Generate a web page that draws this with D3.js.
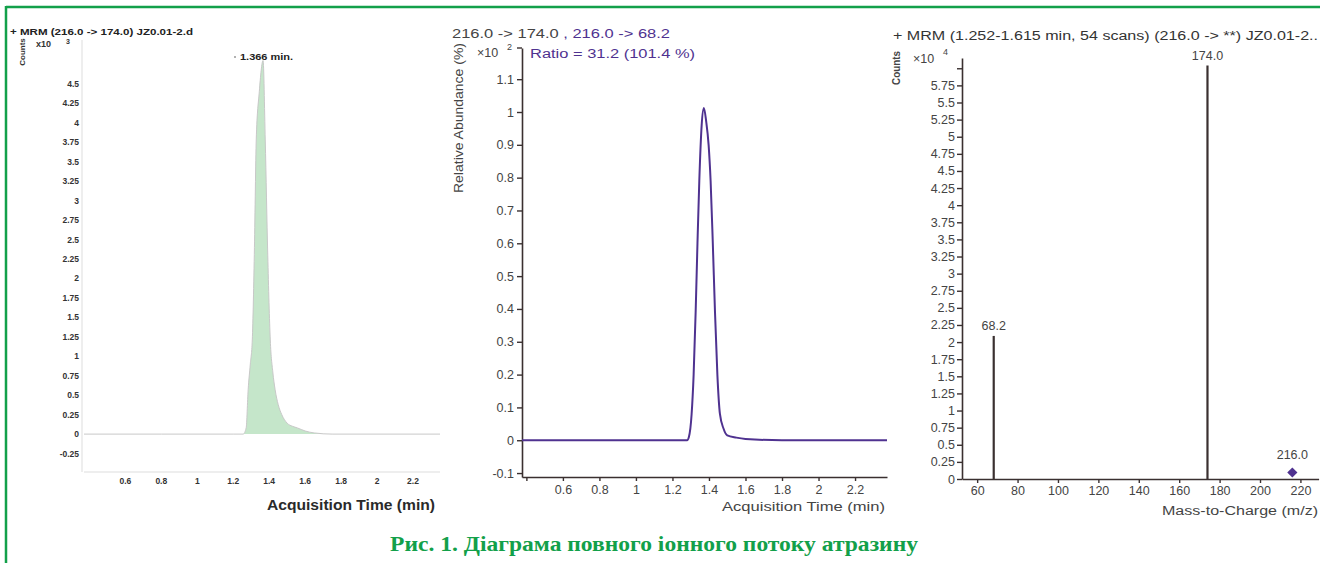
<!DOCTYPE html>
<html>
<head>
<meta charset="utf-8">
<script src="https://cdn.jsdelivr.net/npm/d3@7"></script>
<style>
body{margin:0;background:#fff}
svg{display:block}
text{font-family:"Liberation Sans",Arial,sans-serif}
text.caption{font-family:"Liberation Serif","Times New Roman",serif}
</style>
</head>
<body>
<svg width="1320" height="563"></svg>
<script>
// left panel: MRM 216 -> 174 chromatogram (counts x10^3)
var leftTime = [0.37, 0.8, 1.2, 1.255, 1.272, 1.283, 1.295, 1.306, 1.318, 1.328, 1.345, 1.366, 1.378, 1.392, 1.406, 1.42, 1.433, 1.45, 1.47, 1.5, 1.53, 1.556, 1.6, 1.65, 1.75, 2.35];
var leftCounts = [0, 0, 0, 0, 0.08, 0.57, 0.9, 1.21, 2.4, 3.78, 4.4, 4.8, 3.78, 2.3, 1.21, 0.8, 0.57, 0.38, 0.25, 0.14, 0.1, 0.08, 0.04, 0.015, 0, 0];
var leftYTicks = [-0.25, 0, 0.25, 0.5, 0.75, 1, 1.25, 1.5, 1.75, 2, 2.25, 2.5, 2.75, 3, 3.25, 3.5, 3.75, 4, 4.25, 4.5];
var leftXTicks = [0.6, 0.8, 1, 1.2, 1.4, 1.6, 1.8, 2, 2.2];

// middle panel: relative abundance (x10^2 %)
var midTime = [0.376, 0.7, 1.0, 1.2, 1.28, 1.29, 1.305, 1.316, 1.327, 1.337, 1.347, 1.36, 1.372, 1.385, 1.398, 1.409, 1.421, 1.433, 1.446, 1.46, 1.48, 1.5, 1.55, 1.6, 1.8, 2.375];
var midAbund = [0, 0, 0, 0, 0, 0.01, 0.08, 0.2, 0.39, 0.6, 0.79, 0.96, 1.012, 0.97, 0.9, 0.79, 0.6, 0.39, 0.2, 0.08, 0.035, 0.015, 0.008, 0.004, 0, 0];
var midYTicks = [-0.1, 0, 0.1, 0.2, 0.3, 0.4, 0.5, 0.6, 0.7, 0.8, 0.9, 1, 1.1];
var midXTicks = [0.4, 0.6, 0.8, 1, 1.2, 1.4, 1.6, 1.8, 2, 2.2];

// right panel: product ion spectrum (counts x10^4)
var msMz = [68.2, 174.0, 216.0];
var msCounts = [2.09, 6.04, 0.08];
var msLabels = ["68.2", "174.0", "216.0"];
var rightYTicks = [0, 0.25, 0.5, 0.75, 1, 1.25, 1.5, 1.75, 2, 2.25, 2.5, 2.75, 3, 3.25, 3.5, 3.75, 4, 4.25, 4.5, 4.75, 5, 5.25, 5.5, 5.75, 6];
var rightXTicks = [60, 80, 100, 120, 140, 160, 180, 200, 220];

var caption = "Рис. 1. Діаграма повного іонного потоку атразину";

var svg = d3.select("svg");
var green = "#12a04a";
var purple = "#4f3290";
var ink = "#3a3030";
var fmt = d => String(d);

// frame
svg.append("line").attr("x1",6).attr("x2",1320).attr("y1",7).attr("y2",7).attr("stroke",green).attr("stroke-width",2.5);
svg.append("line").attr("x1",6).attr("x2",6).attr("y1",6).attr("y2",563).attr("stroke",green).attr("stroke-width",2.5);

// ---------- left ----------
var xL = d3.scaleLinear().domain([0.37, 2.35]).range([84, 440]);
var yL = d3.scaleLinear().domain([-0.487, 5.0]).range([472, 45]);
var gL = svg.append("g");
var leftData = leftTime.map((t,i)=>({t:t, v:leftCounts[i]}));

gL.append("line").attr("x1",82).attr("x2",82).attr("y1",40).attr("y2",472).attr("stroke","#ddd");
gL.append("line").attr("x1",84).attr("x2",440).attr("y1",472).attr("y2",472).attr("stroke","#ddd");

gL.append("path").datum(leftData)
  .attr("fill","#bfe3c4").attr("opacity",0.9)
  .attr("d", d3.area().x(d=>xL(d.t)).y0(yL(0)).y1(d=>yL(d.v)).curve(d3.curveMonotoneX));
gL.append("path").datum(leftData)
  .attr("fill","none").attr("stroke","#c8c8c8").attr("stroke-width",1)
  .attr("d", d3.line().x(d=>xL(d.t)).y(d=>yL(d.v)).curve(d3.curveMonotoneX));

gL.selectAll(".ly").data(leftYTicks).enter().append("text")
  .attr("x",79).attr("y",d=>yL(d)+3).attr("text-anchor","end")
  .attr("font-size",8.5).attr("font-weight","bold").attr("fill","#333")
  .text(fmt);
gL.selectAll(".lx").data(leftXTicks).enter().append("text")
  .attr("x",d=>xL(d)).attr("y",484).attr("text-anchor","middle")
  .attr("font-size",8.5).attr("font-weight","bold").attr("fill","#333")
  .text(fmt);

gL.append("text").attr("x",10).attr("y",35).attr("font-size",8.5).attr("font-weight","bold").attr("fill","#222")
  .attr("textLength",183).attr("lengthAdjust","spacingAndGlyphs")
  .text("+ MRM (216.0 -> 174.0) JZ0.01-2.d");
gL.append("text").attr("transform","translate(25,52) rotate(-90)").attr("text-anchor","middle")
  .attr("font-size",8).attr("font-weight","bold").attr("fill","#333").text("Counts");
gL.append("text").attr("x",36).attr("y",47).attr("font-size",9).attr("font-weight","bold").attr("fill","#333").text("x10");
gL.append("text").attr("x",66).attr("y",44).attr("font-size",7).attr("font-weight","bold").attr("fill","#333").text("3");

gL.append("circle").attr("cx",235).attr("cy",57).attr("r",1).attr("fill","#999");
gL.append("text").attr("x",240).attr("y",60).attr("font-size",8.5).attr("font-weight","bold").attr("fill","#222")
  .attr("textLength",53).attr("lengthAdjust","spacingAndGlyphs").text("1.366 min.");

gL.append("text").attr("x",351).attr("y",510).attr("text-anchor","middle")
  .attr("font-size",14).attr("font-weight","bold").attr("fill","#2a2a2a")
  .attr("textLength",168).attr("lengthAdjust","spacingAndGlyphs").text("Acquisition Time (min)");

// ---------- middle ----------
var xM = d3.scaleLinear().domain([0.376, 2.375]).range([522, 887]);
var yM = d3.scaleLinear().domain([-0.112, 1.195]).range([477, 48]);
var gM = svg.append("g");
var midData = midTime.map((t,i)=>({t:t, v:midAbund[i]}));

var axMy = gM.append("g").attr("transform","translate(522,0)")
  .call(d3.axisLeft(yM).tickValues(midYTicks).tickSize(5).tickSizeOuter(0).tickPadding(3).tickFormat(fmt));
var axMx = gM.append("g").attr("transform","translate(0,477)")
  .call(d3.axisBottom(xM).tickValues(midXTicks).tickSize(4).tickSizeOuter(0).tickPadding(4)
    .tickFormat(d=> d===0.4 ? "" : fmt(d)));
[axMy, axMx].forEach(a=>{
  a.select(".domain").attr("stroke",ink).attr("stroke-width",1.6);
  a.selectAll(".tick line").attr("stroke",ink).attr("stroke-width",1.4);
  a.selectAll(".tick text").attr("font-size",12.5).attr("fill","#444").attr("font-family","Liberation Sans, Arial");
});
// extra tick at axis top
gM.append("line").attr("x1",517).attr("x2",522).attr("y1",48).attr("y2",48).attr("stroke",ink).attr("stroke-width",1.4);

gM.append("path").datum(midData)
  .attr("fill","none").attr("stroke",purple).attr("stroke-width",2)
  .attr("d", d3.line().x(d=>xM(d.t)).y(d=>yM(d.v)).curve(d3.curveMonotoneX));

var tM = gM.append("text").attr("x",452).attr("y",38).attr("font-size",12.5)
  .attr("textLength",218).attr("lengthAdjust","spacingAndGlyphs");
tM.append("tspan").attr("fill","#444").text("216.0 -> 174.0 ");
tM.append("tspan").attr("fill",purple).text(", 216.0 -> 68.2");
gM.append("text").attr("x",477).attr("y",57).attr("font-size",12.5).attr("fill","#444").text("×10");
gM.append("text").attr("x",507).attr("y",50).attr("font-size",9).attr("fill","#444").text("2");
gM.append("text").attr("x",530).attr("y",58).attr("font-size",12.5).attr("fill",purple)
  .attr("textLength",165).attr("lengthAdjust","spacingAndGlyphs").text("Ratio = 31.2 (101.4 %)");
gM.append("text").attr("transform","translate(463,118) rotate(-90)").attr("text-anchor","middle")
  .attr("font-size",12).attr("fill","#444")
  .attr("textLength",150).attr("lengthAdjust","spacingAndGlyphs").text("Relative Abundance (%)");
gM.append("text").attr("x",885).attr("y",511).attr("text-anchor","end").attr("font-size",12).attr("fill","#444")
  .attr("textLength",163).attr("lengthAdjust","spacingAndGlyphs").text("Acquisition Time (min)");

// ---------- right ----------
var xR = d3.scaleLinear().domain([52.5, 229]).range([962, 1318.6]);
var yR = d3.scaleLinear().domain([0, 6.15]).range([479, 58]);
var gR = svg.append("g");

var axRy = gR.append("g").attr("transform","translate(962,0)")
  .call(d3.axisLeft(yR).tickValues(rightYTicks).tickSize(5).tickSizeOuter(0).tickPadding(2)
    .tickFormat(d=> d===6 ? "" : fmt(d)));
var axRx = gR.append("g").attr("transform","translate(0,479)")
  .call(d3.axisBottom(xR).tickValues(rightXTicks).tickSize(4).tickSizeOuter(0).tickPadding(3).tickFormat(fmt));
[axRy, axRx].forEach(a=>{
  a.select(".domain").attr("stroke",ink).attr("stroke-width",1.6);
  a.selectAll(".tick line").attr("stroke",ink).attr("stroke-width",1.4);
  a.selectAll(".tick text").attr("font-size",12.5).attr("fill","#444").attr("font-family","Liberation Sans, Arial");
});

var peaks = msMz.map((m,i)=>({m:m, v:msCounts[i], label:msLabels[i]}));
gR.selectAll(".bar").data(peaks.filter(d=>d.v>0.5)).enter().append("line")
  .attr("x1",d=>xR(d.m)).attr("x2",d=>xR(d.m))
  .attr("y1",yR(0)).attr("y2",d=>yR(d.v))
  .attr("stroke",ink).attr("stroke-width",2.2);
gR.selectAll(".dia").data(peaks.filter(d=>d.v<=0.5)).enter().append("path")
  .attr("transform",d=>"translate("+xR(d.m)+","+(yR(d.v)-1)+") scale(1.5,0.85)")
  .attr("d", d3.symbol(d3.symbolDiamond, 40)()).attr("fill",purple);
gR.selectAll(".pl").data(peaks).enter().append("text")
  .attr("x",d=>xR(d.m)).attr("y",d=> d.v>0.5 ? yR(d.v)-6 : yR(d.v)-15)
  .attr("text-anchor","middle").attr("font-size",12.5).attr("fill","#444").text(d=>d.label);

gR.append("text").attr("x",893).attr("y",40).attr("font-size",12.5).attr("fill","#333")
  .attr("textLength",425).attr("lengthAdjust","spacingAndGlyphs")
  .text("+ MRM (1.252-1.615 min, 54 scans) (216.0 -> **) JZ0.01-2..");
gR.append("text").attr("transform","translate(900,68) rotate(-90)").attr("text-anchor","middle")
  .attr("font-size",11).attr("font-weight","bold").attr("fill","#444")
  .attr("textLength",34).attr("lengthAdjust","spacingAndGlyphs").text("Counts");
gR.append("text").attr("x",913).attr("y",63).attr("font-size",12.5).attr("fill","#444").text("×10");
gR.append("text").attr("x",943).attr("y",55).attr("font-size",9).attr("fill","#444").text("4");
gR.append("text").attr("x",1318).attr("y",515).attr("text-anchor","end").attr("font-size",12).attr("fill","#444")
  .attr("textLength",156).attr("lengthAdjust","spacingAndGlyphs").text("Mass-to-Charge (m/z)");

// caption
svg.append("text").attr("class","caption").attr("x",390).attr("y",551)
  .attr("font-weight","bold").attr("font-size",21).attr("fill",green)
  .attr("textLength",528).attr("lengthAdjust","spacingAndGlyphs").text(caption);
</script>
</body>
</html>
